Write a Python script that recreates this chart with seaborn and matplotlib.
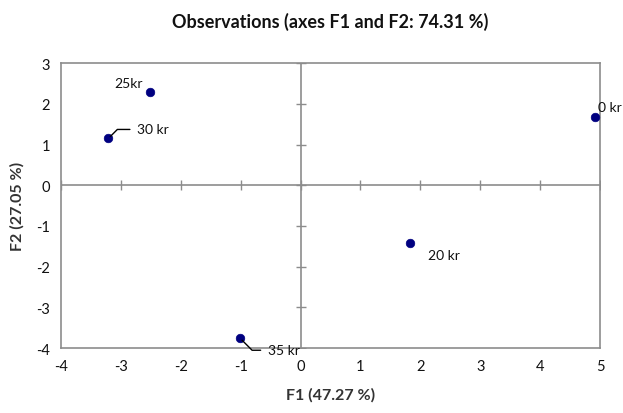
import matplotlib
matplotlib.use("Agg")
import matplotlib.pyplot as plt
import seaborn as sns
import pandas as pd

labels = ["0 kr", "20 kr", "25kr", "30 kr", "35 kr"]
f1 = [4.92, 1.83, -2.51, -3.21, -1.01]
f2 = [1.67, -1.42, 2.28, 1.15, -3.76]
xticks = [-4, -3, -2, -1, 0, 1, 2, 3, 4, 5]
yticks = [-4, -3, -2, -1, 0, 1, 2, 3]

df = pd.DataFrame({"F1": f1, "F2": f2, "label": labels})

sns.set_theme(style="white")
plt.rcParams["font.family"] = ["Lato", "DejaVu Sans"]
plt.rcParams["axes.unicode_minus"] = False

fig = plt.figure(figsize=(6.23, 4.14), dpi=100)
ax = fig.add_axes([0.098, 0.157, 0.865, 0.688])

grey = "#8c8c8c"
ax.axhline(0, color=grey, lw=1.2, zorder=1)
ax.axvline(0, color=grey, lw=1.2, zorder=1)
# small cross ticks along the centre axes
ax.plot(xticks, [0] * len(xticks), linestyle="none", marker="|", markersize=7,
        color=grey, mew=1.0, zorder=1)
ax.plot([0] * len(yticks), yticks, linestyle="none", marker="_", markersize=7,
        color=grey, mew=1.0, zorder=1)

sns.scatterplot(data=df, x="F1", y="F2", ax=ax, color="#000080", s=38,
                edgecolor="#000080", linewidth=0.5, zorder=3)

offsets = {
    "0 kr": ((3, 10), "left", False),
    "20 kr": ((18, -12), "left", False),
    "25kr": ((-7, 9), "right", False),
    "30 kr": ((29, 9), "left", True),
    "35 kr": ((28, -12), "left", True),
}
for x, y, lab in zip(f1, f2, labels):
    off, ha, leader = offsets[lab]
    kw = {}
    if leader:
        kw["arrowprops"] = dict(arrowstyle="-", color="black", lw=1.0,
                                shrinkA=3, shrinkB=2, relpos=(0, 0.5),
                                connectionstyle="angle,angleA=0,angleB=45,rad=0"
                                if off[1] > 0 else
                                "angle,angleA=0,angleB=-45,rad=0")
    ax.annotate(lab, (x, y), xytext=off, textcoords="offset pixels",
                ha=ha, va="center", fontsize=10, color="#111111",
                annotation_clip=False, **kw)

ax.set_xlim(-4, 5)
ax.set_ylim(-4, 3)
ax.set_xticks(xticks)
ax.set_yticks(yticks)
ax.tick_params(axis="both", length=0, labelsize=10.5, colors="#111111", pad=8)
for s in ax.spines.values():
    s.set_color(grey)
    s.set_linewidth(1.2)

ax.set_xlabel("F1 (47.27 %)", fontsize=11.5, fontweight="bold", color="#333333", labelpad=10)
ax.set_ylabel("F2 (27.05 %)", fontsize=11.5, fontweight="bold", color="#333333", labelpad=8)
fig.suptitle("Observations (axes F1 and F2: 74.31 %)", fontsize=13,
             fontweight="bold", color="#111111", x=0.53, y=0.97)

fig.savefig("out.png", dpi=100, facecolor="white")
